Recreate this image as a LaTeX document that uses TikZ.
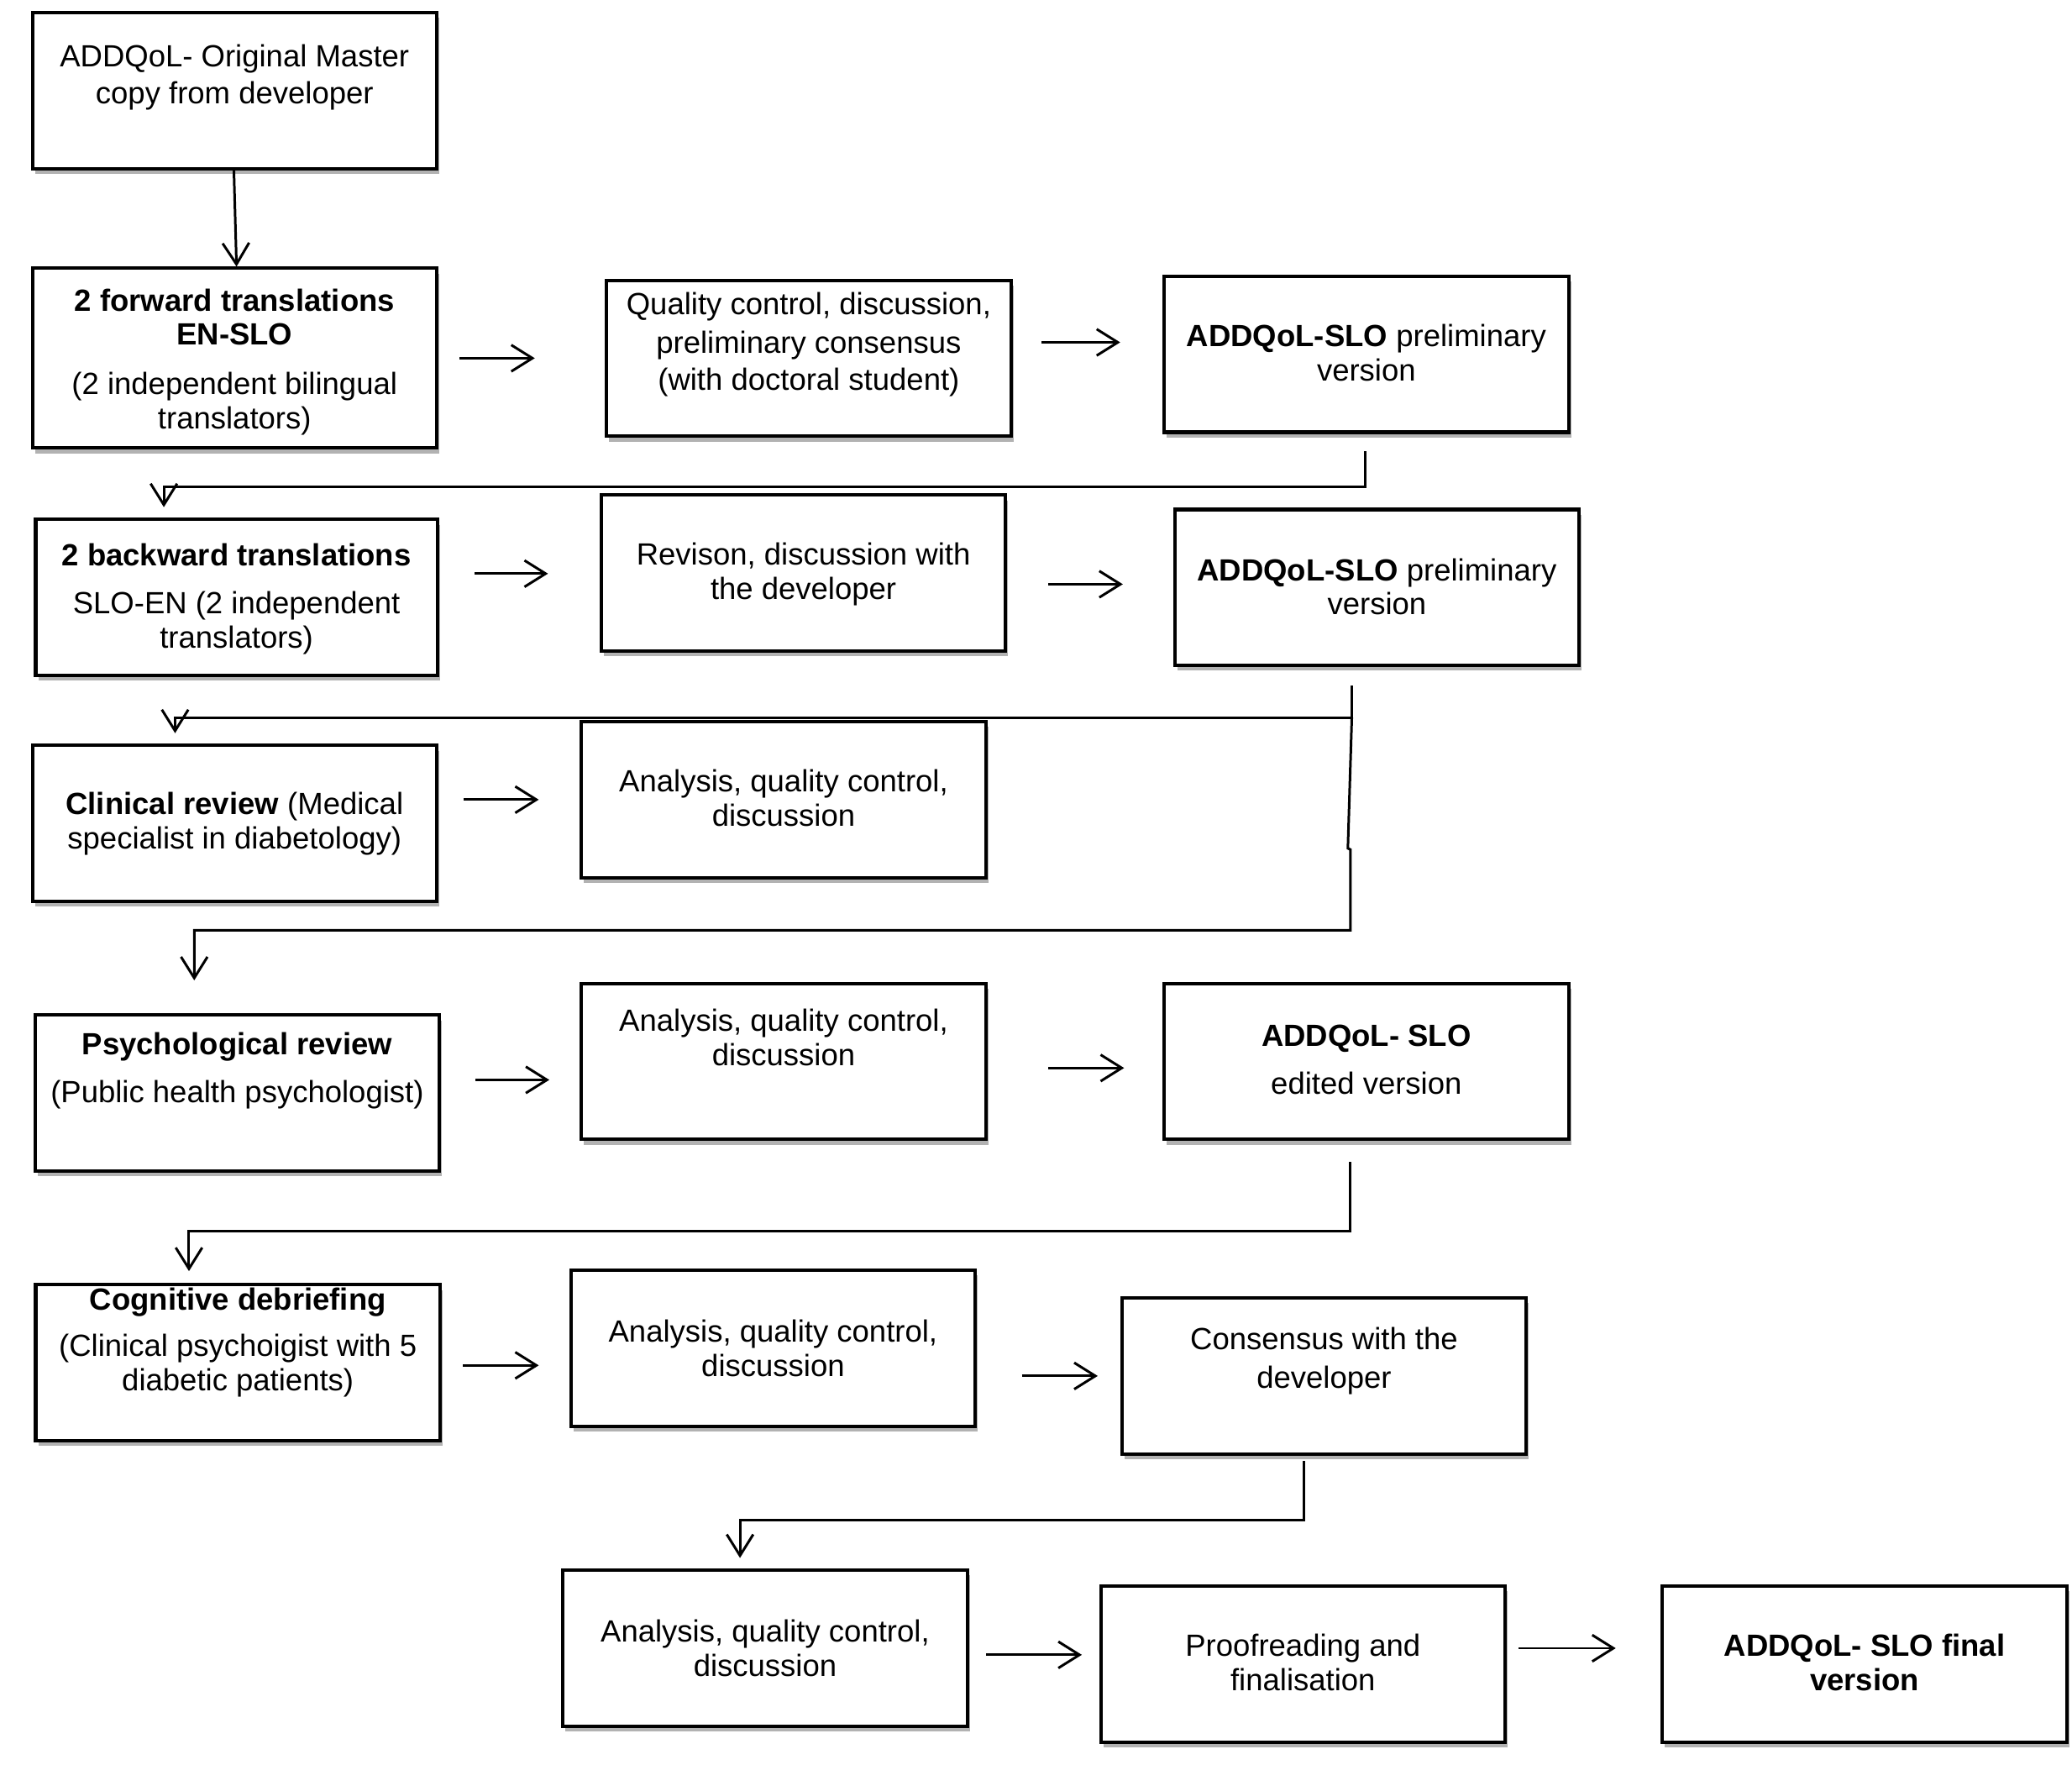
\documentclass[tikz,border=0pt]{standalone}
\usepackage{fontspec}
\setmainfont{Liberation Sans}
\usetikzlibrary{arrows.meta,shadows}
\begin{document}
\begin{tikzpicture}[x=0.5pt,y=-0.5pt,
 box/.style={draw=black,line width=1.3pt,fill=white,minimum width=153pt,minimum height=59pt,inner sep=0pt,
   drop shadow={shadow xshift=1pt,shadow yshift=-2pt,opacity=0.3,fill=black}},
 lbl/.style={anchor=north,inner sep=0pt,align=center,font=\fontsize{11.6}{13}\selectfont},
 arr/.style={line width=0.95pt,-{Straight Barb[length=8pt,width=10pt]}},
 ln/.style={line width=0.95pt}]
\fill[white] (0,0) rectangle (1568,1335);
\useasboundingbox (0,0) rectangle (1568,1335);

% boxes
\node[box] (b1) at (177.5,68.5) {};
\node[box,minimum height=68pt] (b2) at (177.5,271) {};
\node[box] (b3) at (612,271) {};
\node[box] (b4) at (1034,268) {};
\node[box,minimum width=152pt] (b5) at (179,452) {};
\node[box] (b6) at (608,433.5) {};
\node[box] (b7) at (1042,444.5) {};
\node[box] (b8) at (177.5,623) {};
\node[box] (b9) at (593,605) {};
\node[box] (b10) at (179.5,827) {};
\node[box] (b11) at (593,803) {};
\node[box] (b12) at (1034,803) {};
\node[box] (b13) at (180,1031) {};
\node[box] (b14) at (585,1020) {};
\node[box] (b15) at (1002,1041) {};
\node[box] (b16) at (579,1247) {};
\node[box] (b17) at (986,1259) {};
\node[box] (b18) at (1411,1259) {};

% texts
\node[lbl] (t1) at (177.5,33) {ADDQoL- Original Master\\[1pt]copy from developer};
\node[lbl] (t2) at (177.5,218) {\textbf{2 forward translations}\\\textbf{EN-SLO}\\[5.5pt](2 independent bilingual\\translators)};
\node[lbl] (t3) at (612,221) {Quality control, discussion,\\[1.5pt]preliminary consensus\\[1pt](with doctoral student)};
\node[lbl] (t4) at (1034,245) {\textbf{ADDQoL-SLO} preliminary\\version};
\node[lbl] (t5) at (179,411) {\textbf{2 backward translations}\\[5pt]SLO-EN (2 independent\\translators)};
\node[lbl] (t6) at (608,410) {Revison, discussion with\\the developer};
\node[lbl] (t7) at (1042,422) {\textbf{ADDQoL-SLO} preliminary\\version};
\node[lbl] (t8) at (177.5,599) {\textbf{Clinical review} (Medical\\specialist in diabetology)};
\node[lbl] (t9) at (593,582) {Analysis, quality control,\\discussion};
\node[lbl] (t10) at (179.5,781) {\textbf{Psychological review}\\[5pt](Public health psychologist)};
\node[lbl] (t11) at (593,763) {Analysis, quality control,\\discussion};
\node[lbl] (t12) at (1034,775) {\textbf{ADDQoL- SLO}\\[5pt]edited version};
\node[lbl] (t13) at (180,974) {\textbf{Cognitive debriefing}\\[4.5pt](Clinical psychoigist with 5\\diabetic patients)};
\node[lbl] (t14) at (585,998) {Analysis, quality control,\\discussion};
\node[lbl] (t15) at (1002,1004) {Consensus with the\\[1.5pt]developer};
\node[lbl] (t16) at (579,1225) {Analysis, quality control,\\discussion};
\node[lbl] (t17) at (986,1236) {Proofreading and\\finalisation};
\node[lbl] (t18) at (1411,1236) {\textbf{ADDQoL- SLO final}\\\textbf{version}};

% vertical arrow
\draw[arr] ([shift={(-0.5,0)}]b1.south) -- ([shift={(1.5,0)}]b2.north);

% horizontal arrows
\draw[arr] ([shift={(16,0)}]b2.east) -- ([shift={(-53,0)}]b3.west);
\draw[arr] ([shift={(22,-12)}]b3.east) -- ([shift={(-32,-9)}]b4.west);
\draw[arr] ([shift={(27,-18)}]b5.east) -- ([shift={(-39,0.5)}]b6.west);
\draw[arr] ([shift={(31,8.5)}]b6.east) -- ([shift={(-38,-2.5)}]b7.west);
\draw[arr] ([shift={(19,-18)}]b8.east) -- ([shift={(-31,0)}]b9.west);
\draw[arr] ([shift={(26,-10)}]b10.east) -- ([shift={(-23,14)}]b11.west);
\draw[arr] ([shift={(46,5)}]b11.east) -- ([shift={(-29,5)}]b12.west);
\draw[arr] ([shift={(16,2)}]b13.east) -- ([shift={(-23,13)}]b14.west);
\draw[arr] ([shift={(34,21)}]b14.east) -- ([shift={(-17,0)}]b15.west);
\draw[arr] ([shift={(13,5)}]b16.east) -- ([shift={(-13,-7)}]b17.west);
\draw[arr] ([shift={(9,-12)}]b17.east) -- ([shift={(-34,-12)}]b18.west);

% return connectors
\draw[arr] ([shift={(-1,13)}]b4.south) -- ++(0,27) -| ([shift={(-55,-8)}]b5.north);
\draw[ln] ([shift={(-19,14)}]b7.south) -- ++(0,24) coordinate (j1);
\draw[arr] (j1) -| ([shift={(-45,-8)}]b8.north);
\draw[arr] (j1) -- ++(-3,99) -- ++(2,1) -- ++(0,61) -| ([shift={(-32.5,-25)}]b10.north);
\draw[arr] ([shift={(-12,16)}]b12.south) -- ++(0,52) -| ([shift={(-37,-9)}]b13.north);
\draw[arr] ([shift={(-15,4)}]b15.south) -- ++(0,45) -| ([shift={(-19,-8)}]b16.north);
\end{tikzpicture}
\end{document}
